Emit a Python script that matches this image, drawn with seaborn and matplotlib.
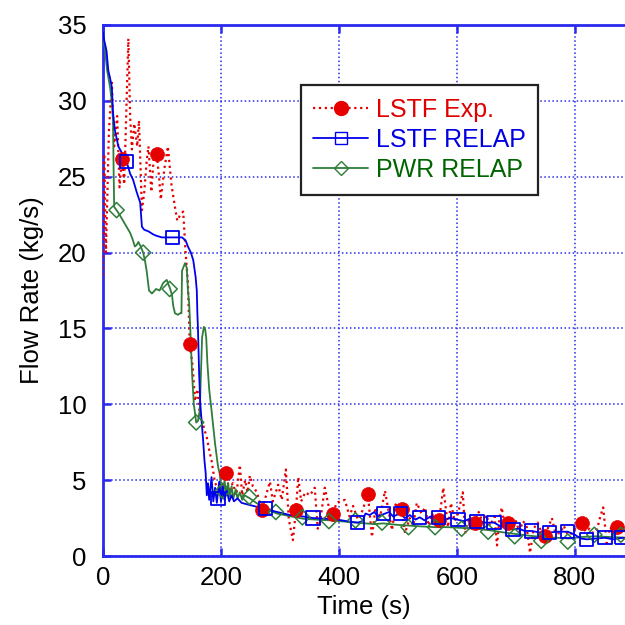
import matplotlib
matplotlib.use("Agg")
import matplotlib.pyplot as plt
import seaborn as sns
from matplotlib.lines import Line2D

# ---------------- data ----------------
red_t = [0, 2, 5, 10, 15, 19, 24, 28, 32, 36, 43, 46, 49, 53, 58, 61, 66, 70, 74, 77,
         82, 87, 91, 95, 98, 104, 110, 116, 122, 126, 131, 136, 140, 144, 147, 152, 156,
         160, 164, 170, 176, 180, 184, 190, 195, 200, 204, 208, 214, 220, 226, 232, 236,
         241, 245, 249, 254, 261, 266, 269, 275, 283, 288, 293, 297, 303, 310, 315, 322,
         327, 331, 336, 343, 351, 359, 364, 368, 376, 383, 390, 396, 402, 410, 418, 424,
         432, 440, 449, 456, 462, 470, 478, 484, 490, 496, 502, 507, 512, 520, 526, 532,
         540, 546, 552, 558, 564, 570, 577, 581, 585, 590, 596, 602, 610, 614, 620, 625,
         630, 637, 644, 650, 656, 664, 668, 672, 676, 681, 687, 694, 700, 706, 712, 718,
         724, 730, 737, 743, 749, 755, 761, 767, 775, 781, 788, 795, 803, 812, 818, 825,
         831, 838, 843, 848, 854, 860, 866, 871, 878, 885, 892]
red_y = [18.5, 26.5, 20.0, 28.0, 31.2, 27.0, 29.0, 24.3, 26.2, 24.5, 34.1, 29.0, 26.8, 28.5,
         27.0, 28.7, 22.8, 24.0, 26.0, 27.0, 24.0, 26.8, 26.5, 25.0, 23.5, 25.5, 27.0, 24.5,
         23.0, 22.1, 22.5, 22.7, 20.0, 18.0, 14.0, 12.5, 10.2, 11.0, 9.4, 8.6, 7.8, 7.0, 6.3,
         4.8, 4.5, 4.2, 5.0, 5.5, 4.4, 4.8, 4.0, 6.0, 4.0, 5.0, 4.2, 5.3, 4.6, 4.2, 3.5, 3.0,
         3.8, 4.9, 3.6, 4.2, 4.7, 3.7, 5.7, 2.4, 1.05, 3.0, 5.2, 3.6, 4.2, 4.0, 4.5, 1.8, 2.2,
         4.5, 3.2, 2.8, 3.5, 3.6, 3.7, 2.6, 3.3, 2.4, 3.0, 4.1, 1.25, 3.2, 2.6, 4.3, 3.0, 1.7,
         3.4, 2.9, 3.1, 1.5, 2.5, 2.0, 3.5, 2.8, 3.2, 2.0, 2.8, 2.2, 2.4, 4.5, 3.2, 1.9, 3.5,
         2.3, 2.8, 4.2, 1.5, 2.4, 2.0, 2.2, 2.9, 2.2, 2.7, 2.0, 2.6, 0.7, 2.4, 3.2, 2.0, 2.2,
         1.8, 2.3, 1.6, 2.3, 2.0, 0.2, 1.8, 2.2, 1.6, 1.3, 1.9, 2.5, 1.5, 1.5, 2.0, 1.4, 1.5,
         1.9, 2.2, 1.6, 1.8, 1.5, 1.8, 2.6, 3.2, 0.85, 1.9, 1.5, 1.9, 1.6, 1.7, 1.5]
red_mark_t = [32, 91, 147, 208, 269, 327, 390, 449, 507, 570, 630, 687, 749, 812, 871]
red_mark_y = [26.2, 26.5, 14.0, 5.5, 3.0, 3.0, 2.8, 4.1, 3.1, 2.4, 2.2, 2.2, 1.3, 2.2, 1.9]

blue_t = [0, 2, 6, 9, 12, 15, 17, 20, 26, 33, 40, 46, 51, 57, 63, 66, 70, 77, 85, 91, 100,
          110, 118, 127, 134, 140, 144, 149, 153, 157, 159, 160, 161, 163, 165, 167, 170,
          172, 174, 176, 178, 180, 184, 187, 190, 193, 197, 200, 203, 206, 210, 214, 218,
          222, 228, 235, 245, 260, 276, 290, 317, 340, 356, 380, 402, 420, 432, 440, 445,
          452, 460, 466, 475, 485, 492, 503, 512, 520, 530, 537, 545, 555, 568, 578, 590,
          600, 612, 622, 634, 645, 663, 672, 680, 695, 705, 715, 727, 740, 757, 770, 788,
          800, 810, 820, 835, 851, 865, 880, 892]
blue_y = [34.5, 34.0, 33.3, 32.0, 31.5, 30.9, 29.2, 28.1, 27.0, 26.5, 26.0, 25.2, 24.8, 24.0,
          23.3, 21.7, 21.5, 21.4, 21.2, 21.1, 21.0, 21.0, 21.0, 21.0, 21.0, 20.8, 20.4, 20.0,
          19.5, 18.4, 17.5, 16.0, 15.0, 12.0, 10.0, 9.0, 7.5, 6.3, 5.5, 4.0, 4.8, 3.7, 5.2,
          3.6, 4.5, 3.5, 4.9, 3.6, 4.6, 3.7, 4.3, 3.6, 4.0, 3.6, 3.8, 3.5, 3.4, 3.25, 3.15,
          2.95, 2.7, 2.6, 2.5, 2.45, 2.37, 2.25, 2.2, 2.3, 2.8, 2.7, 2.9, 2.6, 2.75, 2.9, 2.6,
          2.8, 2.5, 2.7, 2.4, 2.55, 2.35, 2.6, 2.55, 2.4, 2.5, 2.4, 2.3, 2.45, 2.25, 2.2, 2.2,
          2.0, 1.9, 1.75, 1.8, 1.65, 1.65, 1.55, 1.55, 1.6, 1.6, 1.4, 1.15, 1.1, 1.15, 1.2,
          1.1, 1.2, 1.15]
blue_mark_t = [40, 118, 195, 276, 356, 432, 475, 505, 537, 569, 602, 634, 663, 695, 727,
               757, 788, 820, 851, 880]
blue_mark_y = [26.0, 21.0, 3.8, 3.15, 2.5, 2.2, 2.8, 2.8, 2.55, 2.55, 2.4, 2.25, 2.2, 1.75,
               1.65, 1.55, 1.6, 1.1, 1.2, 1.2]

green_t = [0, 3, 7, 12, 15, 17, 18, 19, 23, 28, 34, 40, 46, 50, 54, 57, 60, 64, 68, 71, 74,
           78, 83, 90, 96, 102, 108, 114, 117, 119, 122, 127, 131, 133, 134, 136, 139, 142,
           144, 146, 148, 151, 154, 158, 161, 164, 166, 168, 171, 173, 175, 177, 180, 184,
           187, 190, 193, 195, 198, 200, 203, 206, 209, 212, 215, 218, 221, 225, 228, 232,
           236, 240, 249, 260, 275, 295, 320, 340, 360, 385, 400, 430, 460, 475, 500, 520,
           540, 563, 585, 608, 630, 655, 680, 700, 720, 745, 770, 790, 810, 835, 860, 892]
green_y = [34.0, 33.5, 32.0, 30.9, 29.9, 28.7, 25.4, 23.0, 22.8, 22.5, 22.1, 21.7, 21.3,
           20.9, 20.4, 20.5, 20.7, 20.4, 20.0, 19.5, 18.8, 17.5, 17.3, 17.6, 17.5, 18.0, 18.2,
           17.6, 17.2, 16.5, 16.0, 15.9, 16.0, 16.0, 18.8, 19.0, 19.3, 19.0, 17.5, 16.7, 15.0,
           12.0, 10.0, 8.8, 8.9, 9.6, 12.0, 14.4, 15.1, 15.0, 14.4, 12.7, 11.0, 9.6, 8.5, 7.4,
           6.5, 5.9, 5.4, 4.5, 3.8, 5.0, 4.0, 4.8, 3.9, 4.6, 3.8, 4.4, 3.8, 4.2, 3.7, 4.0, 3.8,
           3.5, 3.1, 2.8, 2.6, 2.45, 2.4, 2.35, 2.3, 2.2, 2.1, 2.15, 2.05, 2.0, 1.95, 1.9,
           1.9, 1.85, 1.8, 1.7, 1.55, 1.45, 1.35, 1.25, 1.2, 1.15, 1.25, 1.3, 1.25, 1.2]
green_mark_t = [23, 68, 113, 158, 203, 248, 293, 338, 383, 428, 473, 518, 563, 608, 653,
                698, 743, 788, 833, 878]
green_mark_y = [22.8, 20.0, 17.6, 8.8, 4.3, 3.9, 2.9, 2.55, 2.3, 2.35, 2.2, 1.9, 1.9, 1.8,
                1.6, 1.3, 1.0, 0.95, 1.4, 1.4]

series_names = ["LSTF Exp.", "LSTF RELAP", "PWR RELAP"]
x_ticks = [0, 200, 400, 600, 800]
y_ticks = [0, 5, 10, 15, 20, 25, 30, 35]

# ---------------- style ----------------
RED = "#e60000"
BLUE = "#0000ee"
GREEN = "#2f7d3a"
AXBLUE = "#2a2aee"

sns.set_theme(style="white")
plt.rcParams["font.family"] = ["Liberation Sans", "DejaVu Sans"]

fig = plt.figure(figsize=(6.25, 6.25), dpi=100)
ax = fig.add_axes([0.1648, 0.1104, 0.8352, 0.8496])

sns.lineplot(x=red_t, y=red_y, ax=ax, color=RED, linestyle=":", linewidth=1.6,
             sort=False, estimator=None, zorder=3)
sns.lineplot(x=blue_t, y=blue_y, ax=ax, color=BLUE, linewidth=1.3,
             sort=False, estimator=None, zorder=4)
sns.lineplot(x=green_t, y=green_y, ax=ax, color=GREEN, linewidth=1.3,
             sort=False, estimator=None, zorder=3.5)

sns.scatterplot(x=red_mark_t, y=red_mark_y, ax=ax, marker="o", s=100, color=RED,
                edgecolor=RED, linewidth=0.5, zorder=5)
sns.scatterplot(x=blue_mark_t, y=blue_mark_y, ax=ax, marker="s", s=90, color="none",
                edgecolor=BLUE, linewidth=1.3, zorder=6)
sns.scatterplot(x=green_mark_t, y=green_mark_y, ax=ax, marker="D", s=60, color="none",
                edgecolor=GREEN, linewidth=1.1, zorder=5.5)

ax.set_xlim(0, 885)
ax.set_ylim(0, 35)
ax.set_xticks(x_ticks)
ax.set_yticks(y_ticks)

ax.grid(True, color=AXBLUE, linestyle=":", linewidth=1.1)
ax.set_axisbelow(True)

for side in ["left", "top", "bottom"]:
    ax.spines[side].set_color(AXBLUE)
    ax.spines[side].set_linewidth(2.0)
ax.spines["right"].set_visible(False)

ax.tick_params(axis="both", which="major", direction="in", length=6, width=1.8,
               color=AXBLUE, labelsize=18.5, labelcolor="black")
ax.tick_params(axis="x", top=True, bottom=True, pad=7)
ax.tick_params(axis="y", left=True, right=False, pad=12)

ax.set_xlabel("Time (s)", fontsize=18.5, labelpad=4, color="black")
ax.set_ylabel("Flow Rate (kg/s)", fontsize=18.5, labelpad=10, color="black")

handles = [
    Line2D([], [], color=RED, linestyle=":", linewidth=1.6, marker="o", markersize=10,
           markerfacecolor=RED, markeredgecolor=RED),
    Line2D([], [], color=BLUE, linewidth=1.3, marker="s", markersize=9,
           markerfacecolor="none", markeredgecolor=BLUE),
    Line2D([], [], color=GREEN, linewidth=1.3, marker="D", markersize=7.5,
           markerfacecolor="none", markeredgecolor=GREEN),
]
leg = ax.legend(handles, series_names, loc="upper left", bbox_to_anchor=(0.379, 0.887),
                borderaxespad=0, fontsize=18, frameon=True, fancybox=False,
                edgecolor="#222222", framealpha=1, handlelength=2.2, handletextpad=0.3,
                labelspacing=0.25, borderpad=0.5)
leg.get_frame().set_linewidth(1.6)
for txt, c in zip(leg.get_texts(), ["#e00000", "#0000e0", "#006400"]):
    txt.set_color(c)

fig.savefig("out.png", dpi=100)
